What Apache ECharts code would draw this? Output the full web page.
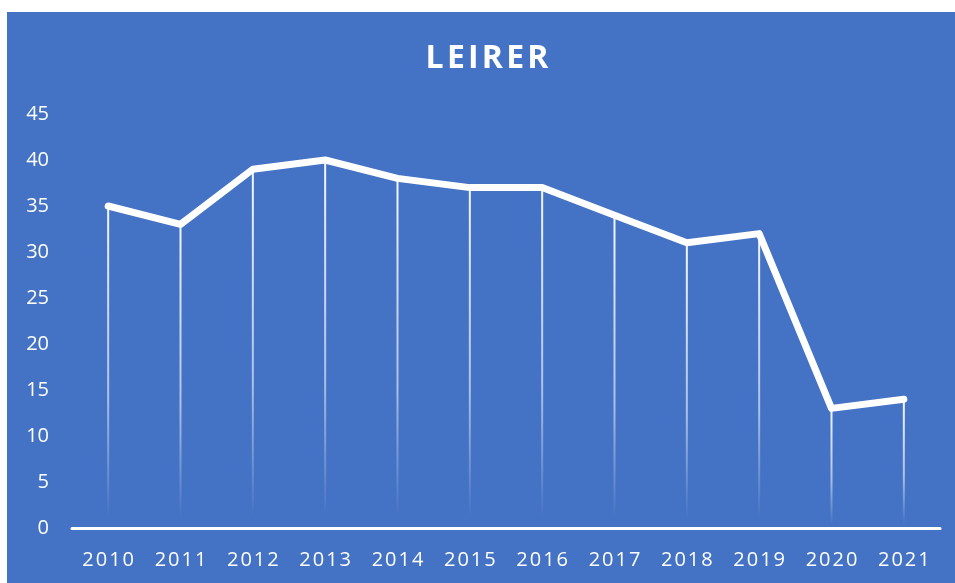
<!DOCTYPE html>
<html>
<head>
<meta charset="utf-8">
<script src="https://cdn.jsdelivr.net/npm/echarts@6/dist/echarts.min.js"></script>
<style>
  html, body { margin: 0; padding: 0; background: #fff; }
  #chart { position: absolute; left: 7px; top: 12px; width: 948px; height: 571px; background: #4472C4; }
</style>
</head>
<body>
<div id="chart"></div>
<script>
// data
var years = ['2010', '2011', '2012', '2013', '2014', '2015', '2016', '2017', '2018', '2019', '2020', '2021'];
var leirer = [35, 33, 39, 40, 38, 37, 37, 34, 31, 32, 13, 14];
var yTicks = { min: 0, max: 45, step: 5 };

// spread letters a bit, like the original
function spaced(s) {
    return s.split('').join('\u200A');
}

var chart = echarts.init(document.getElementById('chart'));
var option = {
    backgroundColor: '#4472C4',
    textStyle: { fontFamily: 'Open Sans' },
    title: {
        text: spaced('LEIRER'),
        left: 475,
        top: 26,
        textAlign: 'center',
        textStyle: { color: '#fff', fontSize: 32, fontWeight: 'bold', fontFamily: 'Open Sans' }
    },
    grid: { left: 65, right: 15, top: 102, bottom: 55 },
    xAxis: {
        type: 'category',
        data: years,
        boundaryGap: true,
        axisLine: { lineStyle: { color: '#fff', width: 3 } },
        axisTick: { show: false },
        axisLabel: {
            color: '#fff', fontSize: 20, margin: 22, interval: 0,
            formatter: function (v) { return spaced(v); }
        }
    },
    yAxis: {
        type: 'value',
        min: yTicks.min,
        max: yTicks.max,
        interval: yTicks.step,
        axisLine: { show: false },
        axisTick: { show: false },
        splitLine: { show: false },
        axisLabel: { color: '#fff', fontSize: 20, margin: 23 }
    },
    series: [
        {
            // drop lines from each point down to the axis, fading out
            type: 'bar',
            data: leirer,
            barWidth: 2,
            silent: true,
            itemStyle: {
                color: new echarts.graphic.LinearGradient(0, 0, 0, 1, [
                    { offset: 0, color: 'rgba(255,255,255,0.95)' },
                    { offset: 0.6, color: 'rgba(255,255,255,0.55)' },
                    { offset: 0.97, color: 'rgba(255,255,255,0)' },
                    { offset: 1, color: 'rgba(255,255,255,0)' }
                ])
            }
        },
        {
            type: 'line',
            data: leirer,
            showSymbol: false,
            lineStyle: { color: '#fff', width: 7, cap: 'round', join: 'round' },
            z: 3
        }
    ]
};
chart.setOption(option);
</script>
</body>
</html>
